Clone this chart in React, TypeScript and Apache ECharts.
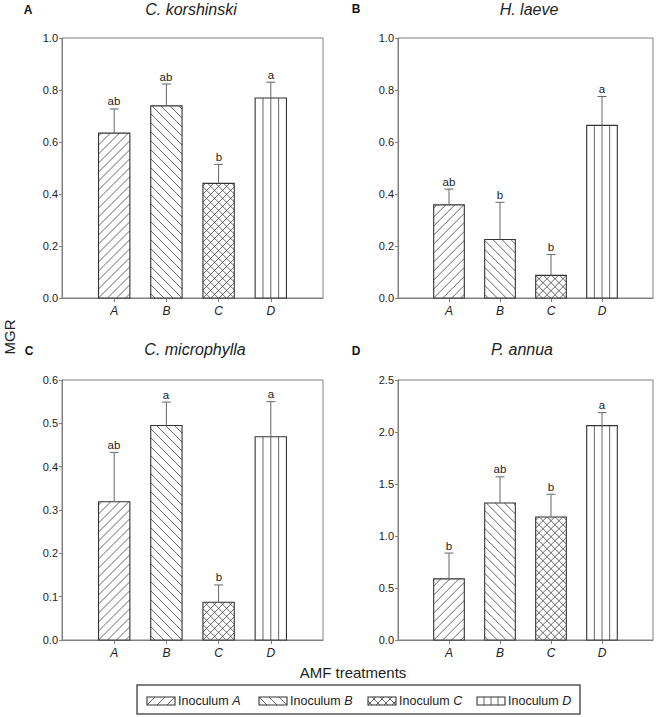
import React, { useEffect, useRef } from 'react';
import * as echarts from 'echarts';

// ---------------- data ----------------
const categories = ['A', 'B', 'C', 'D'];
const panelLetters = ['A', 'B', 'C', 'D'];
const speciesNames = ['C. korshinski', 'H. laeve', 'C. microphylla', 'P. annua'];

const korshinskiMean = [0.634, 0.739, 0.441, 0.769];
const korshinskiSE = [0.093, 0.084, 0.073, 0.061];
const korshinskiSig = ['ab', 'ab', 'b', 'a'];

const laeveMean = [0.358, 0.225, 0.087, 0.664];
const laeveSE = [0.061, 0.143, 0.08, 0.111];
const laeveSig = ['ab', 'b', 'b', 'a'];

const microphyllaMean = [0.319, 0.495, 0.087, 0.469];
const microphyllaSE = [0.114, 0.054, 0.04, 0.081];
const microphyllaSig = ['ab', 'a', 'b', 'a'];

const annuaMean = [0.588, 1.318, 1.183, 2.061];
const annuaSE = [0.248, 0.251, 0.219, 0.125];
const annuaSig = ['b', 'ab', 'b', 'a'];

const yMaxes = [1.0, 1.0, 0.6, 2.5];
const yIntervals = [0.2, 0.2, 0.1, 0.5];

const xAxisTitle = 'AMF treatments';
const yAxisTitle = 'MGR';
const legendPrefix = 'Inoculum ';

// ---------------- layout / style ----------------
const FONT = '"Liberation Sans", Arial, sans-serif';
const GRIDS = [
  { left: 62, top: 38, width: 261, height: 260 },
  { left: 398, top: 38, width: 255, height: 260 },
  { left: 62, top: 380, width: 261, height: 260 },
  { left: 398, top: 380, width: 255, height: 260 },
];
const TITLE_POS = [[191, 9], [529, 9], [195, 349], [522, 349]];
const LETTER_POS = [[28, 10], [356, 9], [29, 351], [356, 351]];
const FRAME = '#808080';
const OUTLINE = '#333';
const HATCH = '#555';
const TEXT = '#222';
const HATCH_SPACING = [9, 9, 8, 0];

const means = [korshinskiMean, laeveMean, microphyllaMean, annuaMean];
const ses = [korshinskiSE, laeveSE, microphyllaSE, annuaSE];
const sigs = [korshinskiSig, laeveSig, microphyllaSig, annuaSig];

type Seg = [number, number, number, number];

function hatch(kind: number, x0: number, y0: number, x1: number, y1: number, s: number): Seg[] {
  const segs: Seg[] = [];
  if (kind === 0 || kind === 2) {
    const kmin = x0 + y0;
    const kmax = x1 + y1;
    const base = x0 + y1;
    for (let n = Math.ceil((kmin - base) / s); base + n * s <= kmax; n++) {
      const k = base + n * s;
      const xa = Math.max(x0, k - y1);
      const xb = Math.min(x1, k - y0);
      if (xb - xa > 0.4) segs.push([xa, k - xa, xb, k - xb]);
    }
  }
  if (kind === 1 || kind === 2) {
    const kmin = y0 - x1;
    const kmax = y1 - x0;
    const base = y1 - x1;
    for (let n = Math.ceil((kmin - base) / s); base + n * s <= kmax; n++) {
      const k = base + n * s;
      const xa = Math.max(x0, y0 - k);
      const xb = Math.min(x1, y1 - k);
      if (xb - xa > 0.4) segs.push([xa, xa + k, xb, xb + k]);
    }
  }
  if (kind === 3) {
    for (let i = 1; i <= 3; i++) {
      const x = x0 + ((x1 - x0) * i) / 4;
      segs.push([x, y0, x, y1]);
    }
  }
  return segs;
}

function patternedRect(kind: number, x0: number, y0: number, x1: number, y1: number, s: number) {
  const children: any[] = [];
  children.push({
    type: 'rect',
    shape: { x: x0, y: y0, width: x1 - x0, height: y1 - y0 },
    style: { fill: '#fff', stroke: 'none' },
  });
  for (const [a, b, c, d] of hatch(kind, x0, y0, x1, y1, s)) {
    children.push({
      type: 'line',
      shape: { x1: a, y1: b, x2: c, y2: d },
      style: { stroke: HATCH, lineWidth: 0.9 },
    });
  }
  children.push({
    type: 'rect',
    shape: { x: x0, y: y0, width: x1 - x0, height: y1 - y0 },
    style: { fill: 'none', stroke: OUTLINE, lineWidth: 1.1 },
  });
  return children;
}

function buildOption() {
  const axisLine = { show: true, lineStyle: { color: FRAME, width: 1 } };
  const xAxisData = [' ', ...categories, '  '];

  const grid = GRIDS.map((g) => ({
    ...g,
    show: true,
    borderColor: FRAME,
    borderWidth: 1,
    backgroundColor: 'transparent',
    containLabel: false,
  }));

  const xAxis = GRIDS.map((_, i) => ({
    type: 'category',
    gridIndex: i,
    data: xAxisData,
    boundaryGap: false,
    axisLine,
    axisTick: {
      show: true,
      length: 4,
      interval: (idx: number) => idx >= 1 && idx <= categories.length,
      lineStyle: { color: FRAME },
    },
    axisLabel: {
      interval: 0,
      margin: 7,
      fontSize: 12,
      fontStyle: 'italic',
      fontFamily: FONT,
      color: TEXT,
    },
    splitLine: { show: false },
  }));

  const yAxis = GRIDS.map((_, i) => ({
    type: 'value',
    gridIndex: i,
    min: 0,
    max: yMaxes[i],
    interval: yIntervals[i],
    axisLine,
    axisTick: { show: true, length: 3, lineStyle: { color: FRAME } },
    axisLabel: {
      margin: 4,
      fontSize: 11,
      fontFamily: FONT,
      color: TEXT,
      formatter: (v: number) => v.toFixed(1),
    },
    splitLine: { show: false },
  }));

  const series = GRIDS.map((_, p) => ({
    type: 'custom',
    xAxisIndex: p,
    yAxisIndex: p,
    itemStyle: { color: TEXT },
    encode: { x: 0, y: 1 },
    data: means[p].map((m, j) => [j + 1, m, ses[p][j]]),
    renderItem: (params: any, api: any) => {
      const j = params.dataIndex;
      const xi = api.value(0);
      const v = api.value(1);
      const se = api.value(2);
      const base = api.coord([xi, 0]);
      const top = api.coord([xi, v]);
      const err = api.coord([xi, v + se]);
      const bw = api.size([1, 0])[0] * 0.6;
      const cx = base[0];
      const x0 = cx - bw / 2;
      const x1 = cx + bw / 2;
      const children: any[] = patternedRect(j, x0, top[1], x1, base[1], HATCH_SPACING[j]);
      children.push({
        type: 'line',
        shape: { x1: cx, y1: top[1], x2: cx, y2: err[1] },
        style: { stroke: '#666', lineWidth: 1 },
      });
      children.push({
        type: 'line',
        shape: { x1: cx - 4.5, y1: err[1], x2: cx + 4.5, y2: err[1] },
        style: { stroke: '#666', lineWidth: 1 },
      });
      children.push({
        type: 'text',
        x: Math.round(cx),
        y: Math.round(err[1] - 1.5),
        style: {
          text: sigs[p][j],
          align: 'center',
          verticalAlign: 'bottom',
          fontSize: 11.5,
          fontFamily: FONT,
          fill: TEXT,
        },
      });
      return { type: 'group', children };
    },
  }));

  const graphic: any[] = [];
  GRIDS.forEach((_, p) => {
    graphic.push({
      type: 'text',
      x: TITLE_POS[p][0],
      y: TITLE_POS[p][1],
      style: {
        text: speciesNames[p],
        textAlign: 'center',
        textVerticalAlign: 'middle',
        font: `italic 16px ${FONT}`,
        fill: TEXT,
      },
    });
    graphic.push({
      type: 'text',
      x: LETTER_POS[p][0],
      y: LETTER_POS[p][1],
      style: {
        text: panelLetters[p],
        textAlign: 'center',
        textVerticalAlign: 'middle',
        font: `bold 12px ${FONT}`,
        fill: '#111',
      },
    });
  });

  graphic.push({
    type: 'text',
    x: 9,
    y: 337,
    rotation: Math.PI / 2,
    style: {
      text: yAxisTitle,
      textAlign: 'center',
      textVerticalAlign: 'middle',
      font: `15px ${FONT}`,
      fill: TEXT,
    },
  });
  graphic.push({
    type: 'text',
    x: 353,
    y: 672,
    style: {
      text: xAxisTitle,
      textAlign: 'center',
      textVerticalAlign: 'middle',
      font: `15px ${FONT}`,
      fill: TEXT,
    },
  });

  // legend box
  graphic.push({
    type: 'rect',
    shape: { x: 137, y: 685, width: 443, height: 29 },
    style: { fill: 'none', stroke: '#555', lineWidth: 1.5 },
  });
  const swatchX = [147, 259, 368, 477];
  categories.forEach((c, k) => {
    const sx = swatchX[k];
    graphic.push({
      type: 'group',
      children: patternedRect(k, sx, 697, sx + 28, 705, k === 2 ? 8 : 10),
    });
    graphic.push({
      type: 'text',
      x: sx + 31,
      y: 701,
      style: {
        text: `{n|${legendPrefix}}{i|${c}}`,
        textAlign: 'left',
        textVerticalAlign: 'middle',
        rich: {
          n: { fontSize: 12.5, fontFamily: FONT, fill: TEXT },
          i: { fontSize: 12.5, fontFamily: FONT, fontStyle: 'italic', fill: TEXT },
        },
      },
    });
  });

  return {
    animation: false,
    backgroundColor: '#fff',
    grid,
    xAxis,
    yAxis,
    series,
    graphic,
  };
}

export default function App() {
  const ref = useRef<HTMLDivElement>(null);
  useEffect(() => {
    const chart = echarts.init(ref.current as HTMLDivElement, null, { renderer: 'svg' });
    chart.setOption(buildOption() as any);
    return () => chart.dispose();
  }, []);
  return (
    <div
      ref={ref}
      style={{ position: 'absolute', left: 0, top: 0, width: 660, height: 717, background: '#fff' }}
    />
  );
}
